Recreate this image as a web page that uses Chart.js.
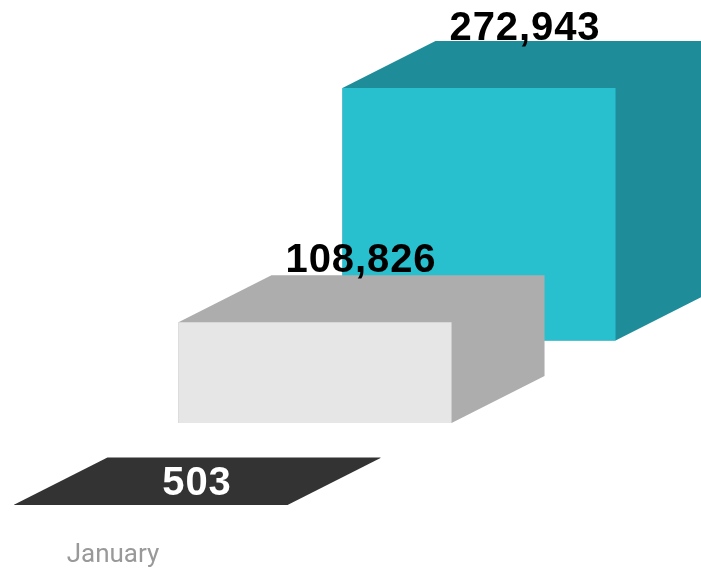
<!DOCTYPE html>
<html>
<head>
<meta charset="utf-8">
<title>January</title>
<script src="https://cdn.jsdelivr.net/npm/chart.js@4/dist/chart.umd.min.js"></script>
<style>
  html, body { margin: 0; padding: 0; background: #fff; }
  canvas { display: block; filter: blur(0.5px); }
</style>
</head>
<body>
<canvas id="bars" width="701" height="573"></canvas>
<script>
// Data
const categories = ['January'];
const seriesValues = [503, 108826, 272943];

// Colours per series: front, side/top, value label
const frontColors = ['#333333', '#e6e6e6', '#28bfcf'];
const sideColors = ['#333333', '#adadad', '#1e8c99'];
const labelColors = ['#ffffff', '#000000', '#000000'];

// 3D look
const depthX = 93;
const depthY = 47;
const labelLift = [10, 50, 48];     // baseline of the value label above the bar top
const labelShift = 46;

// Each box sits on its own floor, same units per pixel for all
const plotHeight = 520;
const pixelsPerUnit = 0.000925;
const floors = [505, 423, 340.5];

function floorAxis(floor) {
    return {
        display: false,
        min: -(plotHeight - floor) / pixelsPerUnit,
        max: floor / pixelsPerUnit
    };
}

//Draw the box silhouette behind the bar, then the value label on top
const boxPlugin = {
    id: 'box3d',
    beforeDatasetDraw(chart, args) {
        const ctx = chart.ctx;
        const bar = args.meta.data[0];
        const left = bar.x - bar.width / 2;
        const right = bar.x + bar.width / 2;
        ctx.save();
        ctx.fillStyle = sideColors[args.index];
        ctx.beginPath();
        ctx.moveTo(left, bar.y);
        ctx.lineTo(left + depthX, bar.y - depthY);
        ctx.lineTo(right + depthX, bar.y - depthY);
        ctx.lineTo(right + depthX, bar.base - depthY);
        ctx.lineTo(right, bar.base);
        ctx.lineTo(left, bar.base);
        ctx.closePath();
        ctx.fill();
        ctx.restore();
    },
    afterDatasetDraw(chart, args) {
        const ctx = chart.ctx;
        const bar = args.meta.data[0];
        ctx.save();
        ctx.fillStyle = labelColors[args.index];
        ctx.font = 'bold 40px "Liberation Sans"';
        ctx.letterSpacing = '0.9px';
        ctx.textAlign = 'center';
        ctx.textBaseline = 'alphabetic';
        ctx.fillText(seriesValues[args.index].toLocaleString('en-US'),
            bar.x + labelShift, bar.y - labelLift[args.index]);
        ctx.restore();
    }
};

new Chart(document.getElementById('bars').getContext('2d'), {
    type: 'bar',
    plugins: [boxPlugin],
    data: {
        labels: categories,
        datasets: seriesValues.map((value, i) => ({
            label: 'Series ' + (i + 1),
            data: [value],
            yAxisID: 'y' + i,
            backgroundColor: frontColors[i],
            borderWidth: 0,
            clip: false,
            categoryPercentage: 0.781,
            barPercentage: 1.665
        }))
    },
    options: {
        responsive: false,
        devicePixelRatio: 1,
        animation: false,
        layout: { padding: { right: 71 } },
        plugins: {
            legend: { display: false },
            title: { display: false },
            tooltip: { enabled: false }
        },
        scales: {
            x: {
                afterFit(scale) { scale.height = 573 - plotHeight; },
                grid: { display: false },
                border: { display: false },
                ticks: {
                    color: '#999999',
                    font: { family: 'Roboto', size: 26 },
                    labelOffset: -202,
                    padding: 12,
                    maxRotation: 0
                }
            },
            y0: floorAxis(floors[0]),
            y1: floorAxis(floors[1]),
            y2: floorAxis(floors[2])
        }
    }
});
</script>
</body>
</html>
